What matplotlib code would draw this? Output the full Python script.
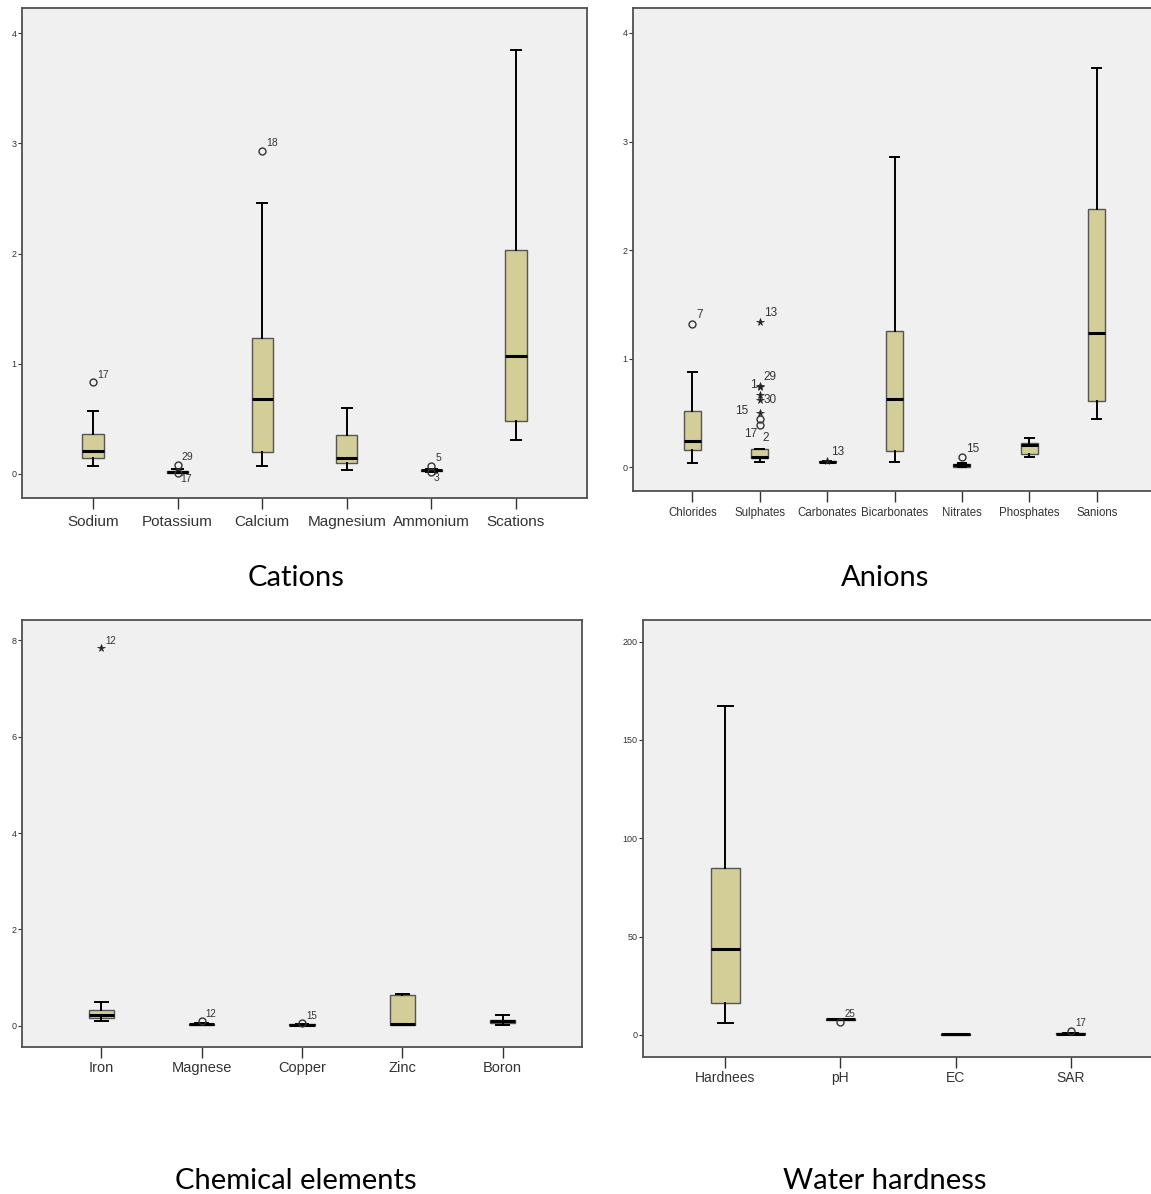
import matplotlib
matplotlib.use('Agg')
import matplotlib.pyplot as plt

# ---------------- data ----------------
# Cations
cat_names = ['Sodium', 'Potassium', 'Calcium', 'Magnesium', 'Ammonium', 'Scations']
cat_whislo = [0.07, 0.01, 0.07, 0.03, 0.02, 0.31]
cat_q1 = [0.14, 0.01, 0.20, 0.10, 0.025, 0.48]
cat_med = [0.21, 0.02, 0.68, 0.14, 0.03, 1.07]
cat_q3 = [0.36, 0.025, 1.23, 0.35, 0.035, 2.03]
cat_whishi = [0.57, 0.04, 2.46, 0.60, 0.04, 3.85]
cat_out_idx = [0, 1, 1, 2, 4, 4]
cat_out_val = [0.83, 0.08, 0.01, 2.93, 0.07, 0.02]
cat_out_mark = ['o', 'o', 'o', 'o', 'o', 'o']
cat_out_lab = ['17', '29', '17', '18', '5', '3']
cat_out_side = ['ur', 'ur', 'lr', 'ur', 'ur', 'lr']

# Anions
an_names = ['Chlorides', 'Sulphates', 'Carbonates', 'Bicarbonates', 'Nitrates', 'Phosphates', 'Sanions']
an_whislo = [0.04, 0.05, 0.045, 0.05, 0.0, 0.09, 0.44]
an_q1 = [0.155, 0.08, 0.045, 0.145, 0.005, 0.125, 0.61]
an_med = [0.24, 0.09, 0.05, 0.625, 0.02, 0.20, 1.235]
an_q3 = [0.52, 0.17, 0.055, 1.25, 0.03, 0.22, 2.38]
an_whishi = [0.88, 0.17, 0.055, 2.86, 0.04, 0.27, 3.68]
an_out_idx = [0, 1, 1, 1, 1, 1, 1, 1, 1, 2, 4]
an_out_val = [1.32, 1.34, 0.75, 0.74, 0.66, 0.62, 0.50, 0.44, 0.39, 0.06, 0.09]
an_out_mark = ['o', '*', '*', '*', '*', '*', '*', 'o', 'o', '*', 'o']
an_out_lab = ['7', '13', '29', '1', '', '30', '15', '', '17|2', '13', '15']
an_out_side = ['ur', 'ur', 'ur', 'l', 'r', 'r', 'l', 'r', 'lb', 'ur', 'ur']

# Chemical elements
ch_names = ['Iron', 'Magnese', 'Copper', 'Zinc', 'Boron']
ch_whislo = [0.09, 0.01, 0.0, 0.01, 0.02]
ch_q1 = [0.16, 0.02, 0.01, 0.015, 0.055]
ch_med = [0.23, 0.03, 0.02, 0.03, 0.09]
ch_q3 = [0.33, 0.04, 0.03, 0.64, 0.12]
ch_whishi = [0.50, 0.05, 0.04, 0.66, 0.23]
ch_out_idx = [0, 1, 2]
ch_out_val = [7.83, 0.09, 0.05]
ch_out_mark = ['*', 'o', 'o']
ch_out_lab = ['12', '12', '15']
ch_out_side = ['ur', 'ur', 'ur']

# Water hardness
wh_names = ['Hardnees', 'pH', 'EC', 'SAR']
wh_whislo = [6.0, 7.6, 0.1, 0.3]
wh_q1 = [16.4, 7.8, 0.2, 0.5]
wh_med = [43.7, 7.9, 0.3, 0.7]
wh_q3 = [85.1, 8.1, 0.4, 0.9]
wh_whishi = [167.3, 8.3, 0.5, 1.2]
wh_out_idx = [1, 3]
wh_out_val = [6.6, 2.0]
wh_out_mark = ['o', 'o']
wh_out_lab = ['25', '17']
wh_out_side = ['ur', 'ur']

titles = ['Cations', 'Anions', 'Chemical elements', 'Water hardness']

# ---------------- drawing ----------------
W, H = 1151, 1194
fig = plt.figure(figsize=(W / 100, H / 100), dpi=100)
fig.patch.set_facecolor('white')

BOX = '#d3ce98'
BG = '#f0f0f0'
FRAME = '#505050'


def fr(x0, y0, x1, y1):
    return [x0 / W, 1 - y1 / H, (x1 - x0) / W, (y1 - y0) / H]


def panel(rect, names, wlo, q1, med, q3, whi, oi, ov, om, ol, os_, ylim, yticks,
          xfs, xfam, xpad, lab_fs, lab_fam):
    ax = fig.add_axes(rect)
    ax.set_facecolor(BG)
    n = len(names)
    stats = []
    for i in range(n):
        stats.append(dict(whislo=wlo[i], q1=q1[i], med=med[i], q3=q3[i],
                          whishi=whi[i], fliers=[], label=names[i]))
    pos = list(range(1, n + 1))
    ax.bxp(stats, positions=pos, widths=0.25, capwidths=0.125, patch_artist=True,
           showfliers=False,
           boxprops=dict(facecolor=BOX, edgecolor='#555555', linewidth=1.0),
           medianprops=dict(color='black', linewidth=2.2, solid_capstyle='butt'),
           whiskerprops=dict(color='black', linewidth=1.4),
           capprops=dict(color='black', linewidth=1.4))
    for i, v, m, l, s in zip(oi, ov, om, ol, os_):
        if m == 'o':
            ax.plot(pos[i], v, marker='o', ms=5, mfc='none', mec='#333333',
                    mew=1.0, ls='none', zorder=4)
        else:
            ax.plot(pos[i], v, marker='*', ms=5.5, mfc='#222222', mec='#222222',
                    mew=0.5, ls='none', zorder=4)
        if not l:
            continue
        kw = dict(fontsize=lab_fs, family=lab_fam, color='#333333')
        if s == 'ur':
            ax.annotate(l, (pos[i], v), xytext=(3, 2), textcoords='offset points',
                        ha='left', va='bottom', **kw)
        elif s == 'lr':
            ax.annotate(l, (pos[i], v), xytext=(2, -1), textcoords='offset points',
                        ha='left', va='top', **kw)
        elif s == 'r':
            ax.annotate(l, (pos[i], v), xytext=(3, 0), textcoords='offset points',
                        ha='left', va='center', **kw)
        elif s == 'l':
            off = -8 if l == '15' else -2
            ax.annotate(l, (pos[i], v), xytext=(off, 1), textcoords='offset points',
                        ha='right', va='center', **kw)
        elif s == 'lb':
            a, b = l.split('|')
            ax.annotate(a, (pos[i], v), xytext=(-2, -2), textcoords='offset points',
                        ha='right', va='top', **kw)
            ax.annotate(b, (pos[i], v), xytext=(2, -5), textcoords='offset points',
                        ha='left', va='top', **kw)
    ax.set_xlim(1 - 0.84, n + 0.84)
    ax.set_ylim(*ylim)
    ax.set_yticks(yticks)
    ax.set_yticklabels([str(t) for t in yticks], fontsize=6.5, color='#333333',
                       family=['Liberation Sans'])
    ax.set_xticks(pos)
    ax.set_xticklabels(names, fontsize=xfs, family=xfam, color='#333333')
    ax.tick_params(axis='y', length=3, width=0.8, color='#333333', pad=1)
    ax.tick_params(axis='x', length=8, width=1.0, color='#333333', pad=xpad)
    for sp in ax.spines.values():
        sp.set_color(FRAME)
        sp.set_linewidth(1.3)
    return ax


reg = ['Liberation Sans']

panel(fr(22, 8, 587, 498), cat_names, cat_whislo, cat_q1, cat_med, cat_q3, cat_whishi,
      cat_out_idx, cat_out_val, cat_out_mark, cat_out_lab, cat_out_side,
      (-0.22, 4.23), [0, 1, 2, 3, 4], 11, reg, 4.5, 7.5, reg)

ax2 = panel(fr(633, 8, 1156, 491), an_names, an_whislo, an_q1, an_med, an_q3, an_whishi,
            an_out_idx, an_out_val, an_out_mark, an_out_lab, an_out_side,
            (-0.22, 4.23), [0, 1, 2, 3, 4], 8.3, reg, 3.5, 8.5, reg)
ax2.set_xlim(1 - 0.88, 7 + 0.88)

ax3 = panel(fr(22, 620, 582, 1047), ch_names, ch_whislo, ch_q1, ch_med, ch_q3, ch_whishi,
            ch_out_idx, ch_out_val, ch_out_mark, ch_out_lab, ch_out_side,
            (-0.44, 8.42), [0, 2, 4, 6, 8], 10.5, reg, 2, 7, reg)
ax3.set_xlim(1 - 0.79, 5 + 0.79)

ax4 = panel(fr(643, 620, 1153, 1057), wh_names, wh_whislo, wh_q1, wh_med, wh_q3, wh_whishi,
            wh_out_idx, wh_out_val, wh_out_mark, wh_out_lab, wh_out_side,
            (-11.2, 211), [0, 50, 100, 150, 200], 10, reg, 2, 7, reg)
ax4.set_xlim(1 - 0.715, 4 + 0.715)

tfam = ['Lato', 'DejaVu Sans']
fs_t = 21
fig.text(296 / W, 1 - 578 / H, titles[0], ha='center', va='center', fontsize=fs_t, family=tfam)
fig.text(885 / W, 1 - 578 / H, titles[1], ha='center', va='center', fontsize=fs_t, family=tfam)
fig.text(296 / W, 1 - 1181 / H, titles[2], ha='center', va='center', fontsize=fs_t, family=tfam)
fig.text(885 / W, 1 - 1181 / H, titles[3], ha='center', va='center', fontsize=fs_t, family=tfam)

fig.savefig('out.png', dpi=100, facecolor='white')
